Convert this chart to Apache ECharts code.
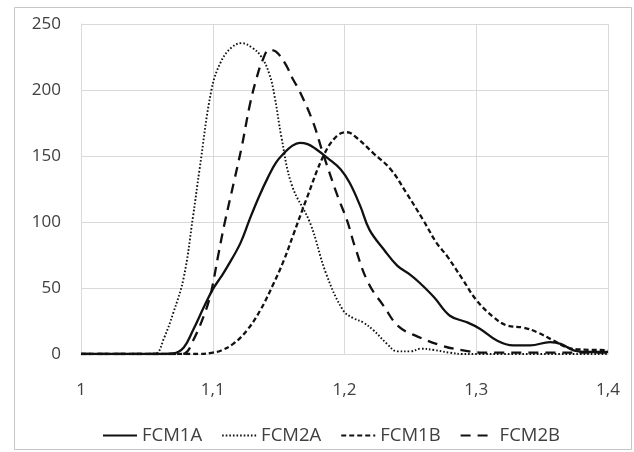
<!DOCTYPE html>
<html><head><meta charset="utf-8">
<script src="https://cdn.jsdelivr.net/npm/echarts@6/dist/echarts.min.js"></script>
<style>html,body{margin:0;padding:0;background:#fff}#c{width:634px;height:452px}</style>
</head><body><div id="c"></div>
<script>
var seriesNames = ['FCM1A', 'FCM2A', 'FCM1B', 'FCM2B'];
var xTickLabels = ['1', '1,1', '1,2', '1,3', '1,4'];
var yTickLabels = ['0', '50', '100', '150', '200', '250'];

var fcm1aX = [1.00, 1.06, 1.070, 1.078, 1.085, 1.093, 1.100, 1.106, 1.111, 1.121, 1.128, 1.135, 1.142, 1.148, 1.154, 1.160, 1.166, 1.172, 1.178, 1.187, 1.197, 1.204, 1.212, 1.219, 1.230, 1.240, 1.250, 1.257, 1.268, 1.280, 1.293, 1.303, 1.316, 1.328, 1.341, 1.356, 1.364, 1.374, 1.385, 1.40];
var fcm1aY = [0, 0, 0.5, 5, 18, 35, 49, 58, 66, 84, 102, 119, 134, 145, 152, 157.5, 160, 159, 155.5, 148.6, 140, 129.5, 112, 94, 79, 67, 60, 54, 43, 29, 24, 19, 10, 6.5, 6.5, 9, 7.7, 2.7, 1.5, 1.5];

var fcm2aX = [1.00, 1.05, 1.057, 1.063, 1.070, 1.078, 1.085, 1.090, 1.099, 1.106, 1.114, 1.122, 1.130, 1.137, 1.143, 1.147, 1.152, 1.160, 1.174, 1.186, 1.199, 1.207, 1.214, 1.222, 1.232, 1.240, 1.250, 1.258, 1.268, 1.280, 1.290, 1.40];
var fcm2aY = [0, 0, 0.5, 12, 31, 58, 104, 140, 200, 221, 232, 235.5, 232, 225, 212, 195, 165, 128, 99, 61, 33, 27, 24, 18, 8, 2, 2, 4, 3, 1, 0, 0];

var fcm1bX = [1.00, 1.09, 1.100, 1.106, 1.116, 1.126, 1.136, 1.146, 1.154, 1.161, 1.171, 1.184, 1.194, 1.202, 1.209, 1.222, 1.235, 1.247, 1.260, 1.270, 1.278, 1.290, 1.300, 1.313, 1.323, 1.336, 1.346, 1.359, 1.369, 1.379, 1.40];
var fcm1bY = [0, 0, 1, 2.5, 8, 18, 33, 53, 71, 90, 117, 150, 165, 168, 164, 152, 140, 122, 101, 84, 74, 56, 41, 28, 21.7, 20, 16.6, 10, 5, 3.4, 3];

var fcm2bX = [1.00, 1.075, 1.079, 1.085, 1.094, 1.099, 1.104, 1.109, 1.116, 1.122, 1.128, 1.133, 1.138, 1.143, 1.148, 1.155, 1.161, 1.166, 1.176, 1.184, 1.195, 1.202, 1.208, 1.218, 1.230, 1.241, 1.256, 1.275, 1.290, 1.305, 1.40];
var fcm2bY = [0, 0, 0.5, 10, 31, 48, 74, 99, 130, 157, 188, 208, 223, 230.5, 229, 220, 208, 199, 176, 151, 119, 101, 81, 54, 36, 21, 13, 6, 2.7, 1, 1];

function pairs(xs, ys) { return xs.map(function (x, i) { return [x, ys[i]]; }); }

var styles = [
  { width: 2.3, type: 'solid' },
  { width: 1.9, type: [1.6, 2] },
  { width: 2.3, type: [5, 3] },
  { width: 2.3, type: [10, 7] }
];
var datas = [pairs(fcm1aX, fcm1aY), pairs(fcm2aX, fcm2aY), pairs(fcm1bX, fcm1bY), pairs(fcm2bX, fcm2bY)];

var chart = echarts.init(document.getElementById('c'), null, { renderer: 'canvas' });
var txt = '#404040';
var gridC = '#d9d9d9';
chart.setOption({
  animation: false,
  backgroundColor: '#fff',
  textStyle: { fontFamily: 'Open Sans' },
  graphic: [{ type: 'rect', shape: { x: 14.5, y: 7.5, width: 617, height: 442 }, style: { fill: 'none', stroke: '#c6c6c6', lineWidth: 1 }, silent: true }],
  grid: { left: 81, right: 26, top: 24, bottom: 98 },
  xAxis: {
    type: 'value', min: 1, max: 1.4, interval: 0.1,
    axisLine: { show: true, lineStyle: { color: gridC } },
    axisTick: { show: false },
    splitLine: { show: true, lineStyle: { color: gridC, width: 1 } },
    axisLabel: { color: txt, fontSize: 17, margin: 28, formatter: function (v) { return xTickLabels[Math.round((v - 1) * 10)]; } }
  },
  yAxis: {
    type: 'value', min: 0, max: 250, interval: 50,
    axisLine: { show: true, lineStyle: { color: gridC } },
    axisTick: { show: false },
    splitLine: { show: true, lineStyle: { color: gridC, width: 1 } },
    axisLabel: { color: txt, fontSize: 17, margin: 20, formatter: function (v) { return yTickLabels[Math.round(v / 50)]; } }
  },
  legend: {
    top: 421, left: 97, itemWidth: 34, itemHeight: 20, itemGap: 19,
    itemStyle: { opacity: 0 },
    textStyle: { color: txt, fontSize: 18.5 },
    data: seriesNames
  },
  series: seriesNames.map(function (n, i) {
    return {
      name: n, type: 'line', data: datas[i], smooth: 0.4, symbol: 'none', showSymbol: false,
      lineStyle: { color: '#111', width: styles[i].width, type: styles[i].type, cap: 'butt' },
      itemStyle: { color: '#111' }
    };
  })
});
</script></body></html>
